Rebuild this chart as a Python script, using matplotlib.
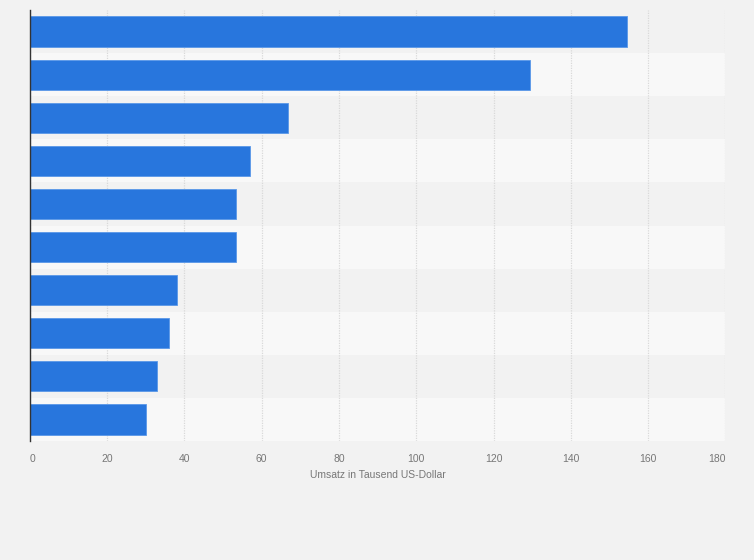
import matplotlib.pyplot as plt

# bars listed top to bottom, values in thousand US dollars
ranks = list(range(1, 11))
umsatz = [154.5, 129.4, 66.9, 57.1, 53.4, 53.4, 38.2, 36.0, 33.0, 30.2]
ticks = [0, 20, 40, 60, 80, 100, 120, 140, 160, 180]
xlabel = "Umsatz in Tausend US-Dollar"

plt.rcParams['font.family'] = ['Liberation Sans', 'DejaVu Sans']

fig = plt.figure(figsize=(7.54, 5.6), dpi=100, facecolor='#f2f2f2')
ax = fig.add_axes([0.0393, 0.2125, 0.9229, 0.7696])
ax.set_facecolor('#f2f2f2')

# alternating row stripes
for i, r in enumerate(ranks):
    ax.axhspan(r - 0.5, r + 0.5, color='#f2f2f2' if i % 2 == 0 else '#f8f8f8',
               zorder=0, lw=0)

ax.barh(ranks, umsatz, height=0.7, color='#2876dd', edgecolor='#5a98e8',
        linewidth=0.6, zorder=3)

ax.set_xlim(0, 180)
ax.set_ylim(10.5, 0.5)
ax.set_xticks(ticks)
ax.set_xticklabels([str(t) for t in ticks], fontsize=7.5, color='#777777')
labels = ax.get_xticklabels()
labels[0].set_ha('left')
labels[-1].set_ha('right')
ax.tick_params(axis='x', length=0, pad=9)
ax.set_yticks([])

ax.grid(axis='x', color='#d9d9d9', linestyle=(0, (1, 1)), linewidth=0.9, zorder=1)
for s in ['top', 'right', 'bottom']:
    ax.spines[s].set_visible(False)
ax.spines['left'].set_color('#333333')
ax.spines['left'].set_linewidth(1)
ax.spines['left'].set_zorder(4)

ax.set_xlabel(xlabel, fontsize=7.5, color='#777777', labelpad=5)

fig.savefig('out.png', dpi=100, facecolor=fig.get_facecolor())
